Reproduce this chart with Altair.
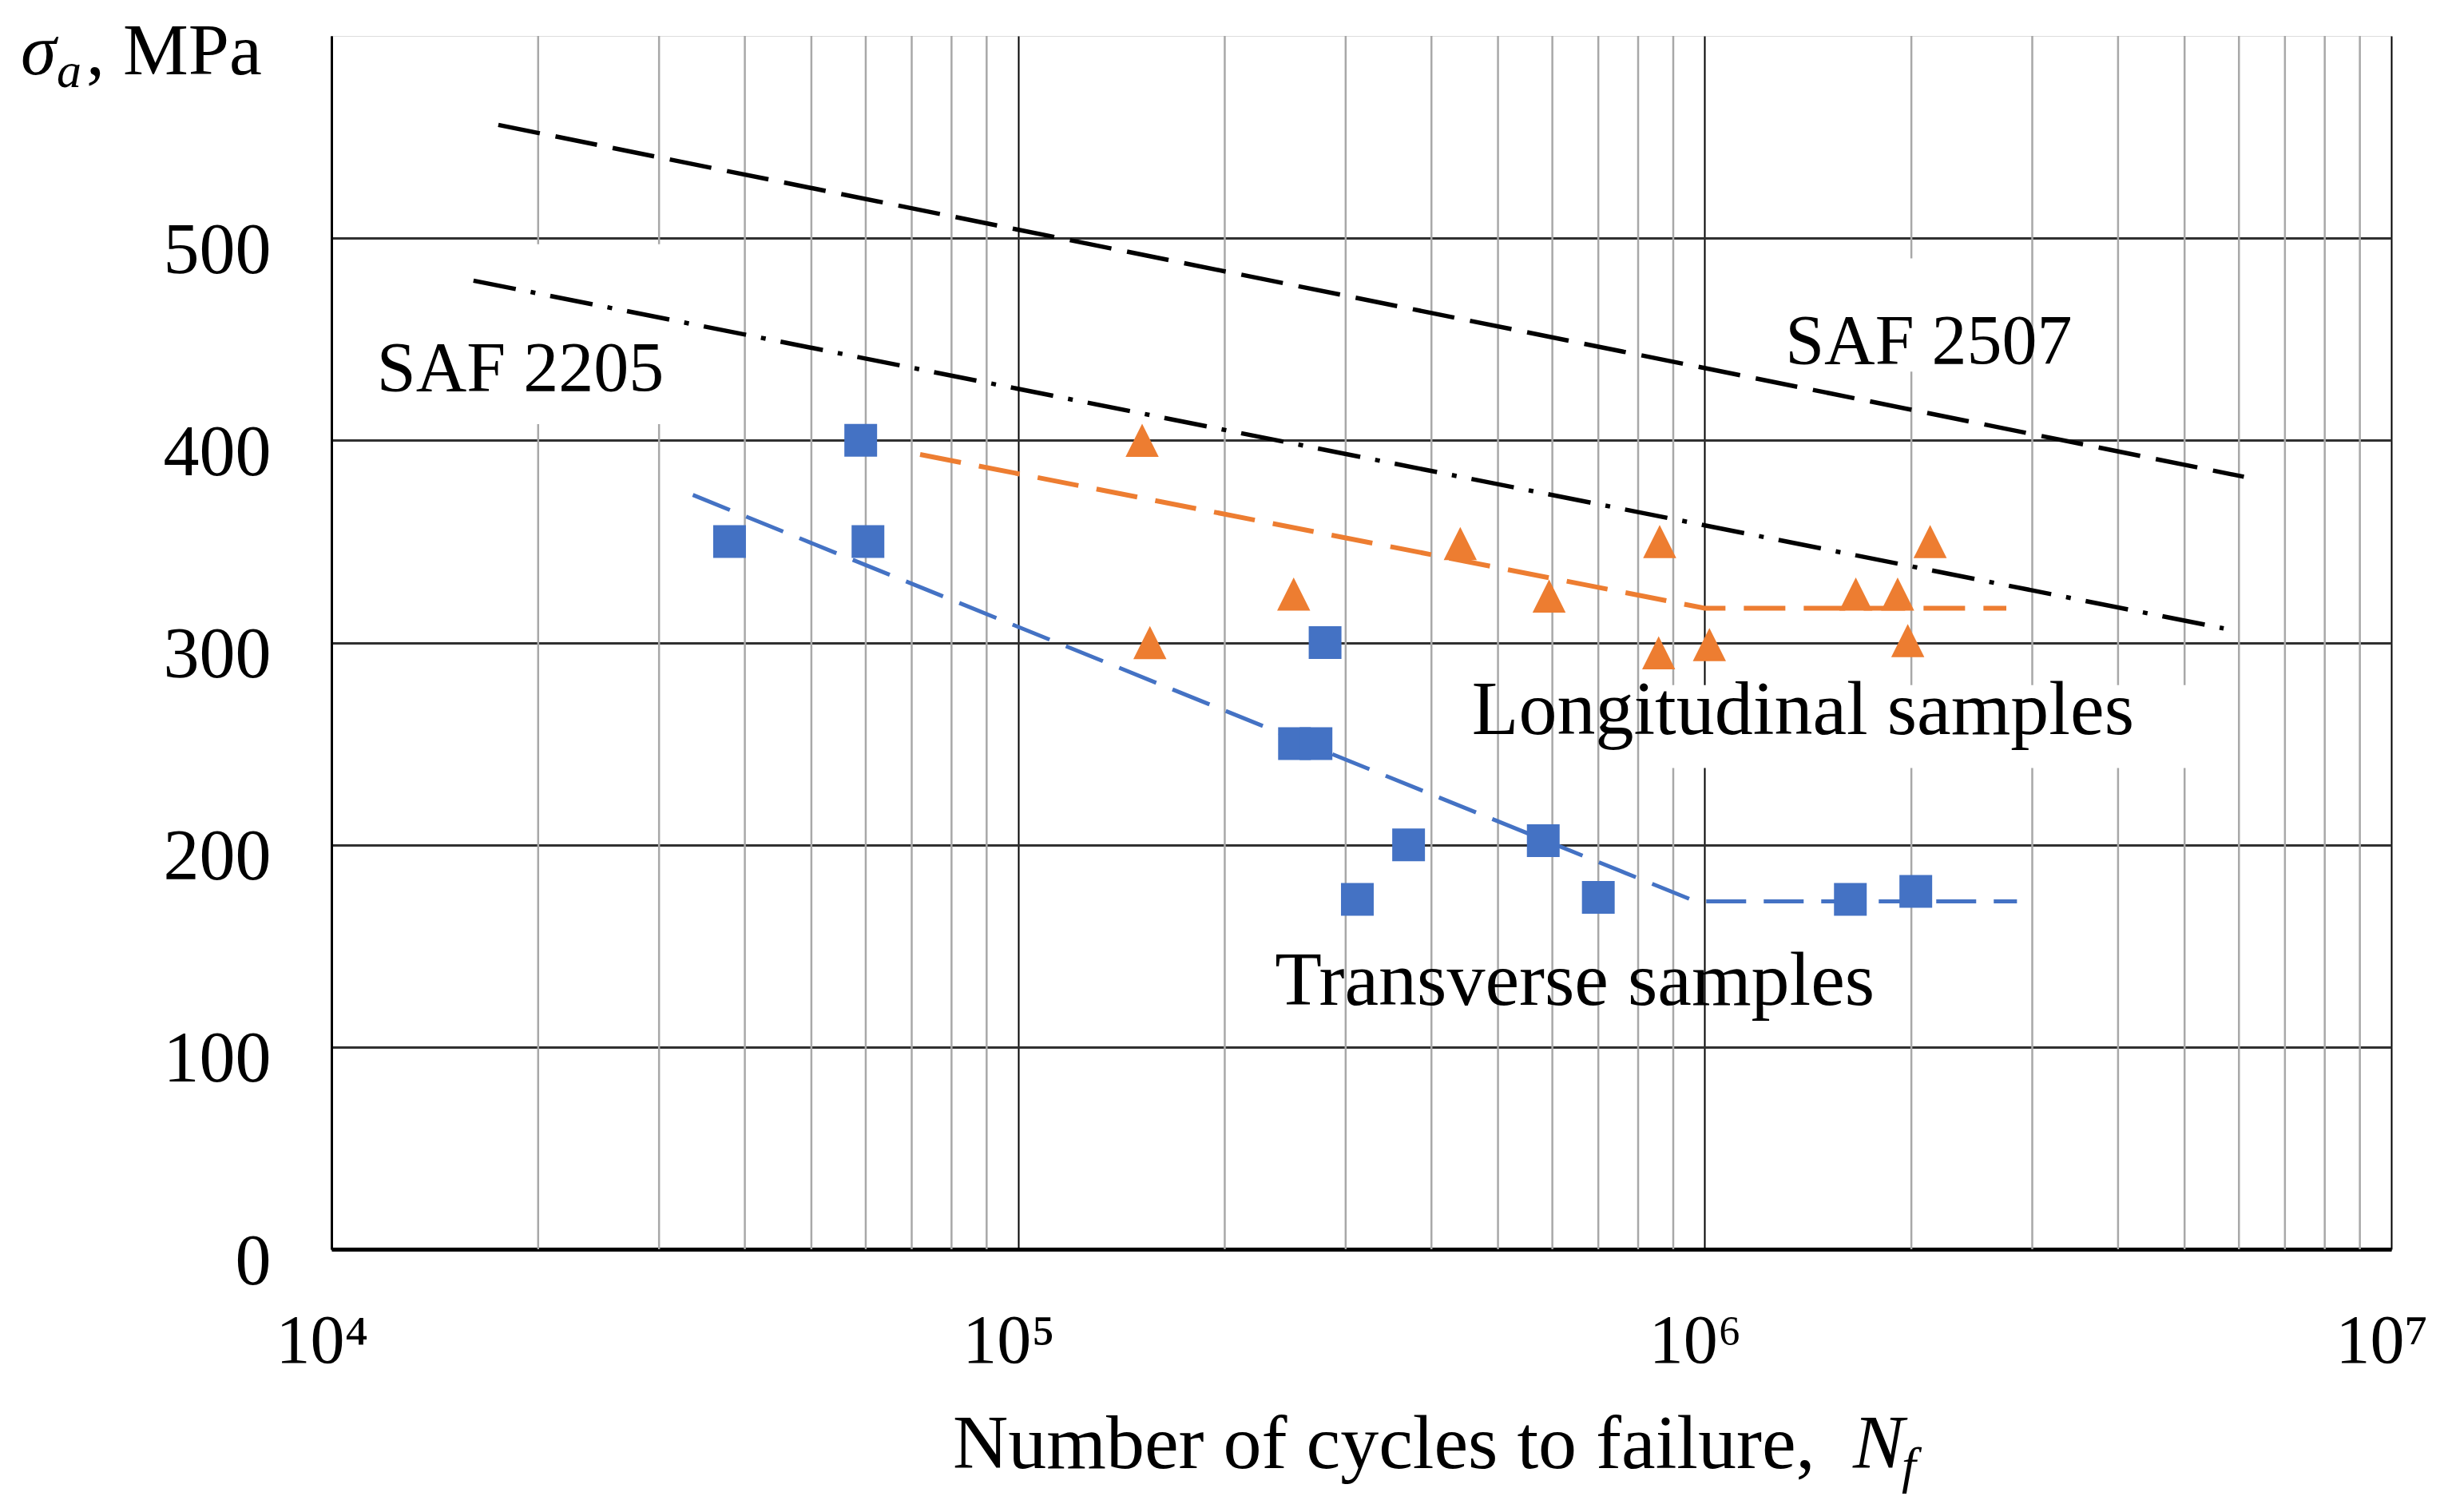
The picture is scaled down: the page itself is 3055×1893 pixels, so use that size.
import altair as alt
import pandas as pd

FONT = "Liberation Serif"

# ---- data ----
trans_N = [38000, 59000, 60450, 280000, 252700, 271600, 312000, 370500, 582000, 700000, 1630000, 2030000]
trans_S = [350, 400, 350, 300, 250, 250, 173, 200, 202, 174, 173, 177]

long_N = [151600, 155600, 252000, 440600, 593500, 860000, 857000, 1016000, 1660000, 1910000, 1976000, 2130000]
long_S = [400, 300, 324, 349, 323, 350, 295, 299, 324, 324, 301, 350]

saf2507_N = [17500, 6100000]
saf2507_S = [556, 382]
saf2205_N = [16100, 5700000]
saf2205_S = [479, 307]
long_fit_N = [72000, 1000000, 2750000]
long_fit_S = [393, 317, 317]
trans_fit_N = [33600, 970000, 2850000]
trans_fit_S = [373, 172, 172]

decades = [10000, 100000, 1000000, 10000000]
minor_N = [m * 10 ** e for e in (4, 5, 6) for m in range(2, 10)]
y_ticks = [0, 100, 200, 300, 400, 500]

ann_text = ["SAF 2205", "SAF 2507", "Longitudinal samples", "Transverse samples"]
ann_N = [11640, 1310000, 458000, 236600]
ann_S = [424.6, 438, 254.6, 120.8]
ann_fs = [88, 88, 96, 96]

# white label boxes (they hide the grid behind labels)
box_x0 = [10300, 1270000, 850000]
box_x1 = [35000, 2750000, 5500000]
box_y0 = [408, 434, 238]
box_y1 = [497, 490, 279]

# ---- scales / axes ----
xscale = alt.Scale(type="log", domain=[1e4, 1e7], nice=False)
yscale = alt.Scale(domain=[0, 600], nice=False, zero=False)

xaxis = alt.Axis(
    values=decades, title=None, grid=True, gridColor="black", gridWidth=2,
    ticks=False, tickSize=0, domain=True, domainColor="black", domainWidth=5,
    labelExpr="datum.value < 50000 ? '10⁴' : datum.value < 500000 ? '10⁵' : datum.value < 5000000 ? '10⁶' : '10⁷'",
    labelFont=FONT, labelFontSize=86, labelColor="black", labelPadding=141, labelOffset=-12,
    labelBaseline="alphabetic", labelFlush=False, labelOverlap=False, labelBound=False,
)
yaxis = alt.Axis(
    values=y_ticks, title=None, grid=True, gridColor="#303030", gridWidth=3,
    ticks=False, tickSize=0, domain=True, domainColor="black", domainWidth=3,
    labelFont=FONT, labelFontSize=90, labelColor="black", labelPadding=76,
    labelBaseline="alphabetic", labelOffset=43, labelFlush=False, labelOverlap=False,
)

def X(field="N"):
    return alt.X(f"{field}:Q", scale=xscale, axis=xaxis)

def Y(field="S"):
    return alt.Y(f"{field}:Q", scale=yscale, axis=yaxis)

# ---- layers ----
minor = alt.Chart(pd.DataFrame({"N": minor_N})).mark_rule(
    color="#a8a8a8", strokeWidth=2.5
).encode(x=X())

boxes = alt.Chart(pd.DataFrame({"x0": box_x0, "x1": box_x1, "y0": box_y0, "y1": box_y1})).mark_rect(
    color="white", opacity=1
).encode(x=X("x0"), x2="x1:Q", y=Y("y0"), y2="y1:Q")

def line(N, S, color, dash, width):
    return alt.Chart(pd.DataFrame({"N": N, "S": S})).mark_line(
        color=color, strokeDash=dash, strokeWidth=width, strokeCap="butt"
    ).encode(x=X(), y=Y())

l2507 = line(saf2507_N, saf2507_S, "black", [53, 20], 5.5)
l2205 = line(saf2205_N, saf2205_S, "black", [54, 19, 6, 19], 5.5)
llong = line(long_fit_N, long_fit_S, "#ED7D31", [52, 23], 6)
ltrans = line(trans_fit_N, trans_fit_S, "#4472C4", [50, 22], 5)

squares = alt.Chart(pd.DataFrame({"N": trans_N, "S": trans_S})).mark_point(
    shape="square", filled=True, size=1680, color="#4472C4", opacity=1, strokeWidth=0
).encode(x=X(), y=Y())

triangles = alt.Chart(pd.DataFrame({"N": long_N, "S": long_S})).mark_point(
    shape="M0,-1L1,1L-1,1Z", filled=True, size=1720, color="#ED7D31", opacity=1, strokeWidth=0
).encode(x=X(), y=Y())

ann = alt.Chart(pd.DataFrame({"N": ann_N, "S": ann_S, "t": ann_text, "fs": ann_fs})).mark_text(
    font=FONT, align="left", baseline="alphabetic", color="black"
).encode(x=X(), y=Y(), text="t:N", size=alt.Size("fs:Q", scale=None, legend=None))

def ptext(txt, px, py, fs, italic=False):
    return alt.Chart(pd.DataFrame({"t": [txt]})).mark_text(
        font=FONT, fontSize=fs, fontStyle="italic" if italic else "normal",
        align="left", baseline="alphabetic", color="black"
    ).encode(x=alt.value(px), y=alt.value(py), text="t:N")

ytitle = [
    ptext("σ", -389, 48, 90, True),
    ptext("a", -344, 64, 62, True),
    ptext(", MPa", -307, 48, 92),
]
xtitle = [
    ptext("Number of cycles to failure,", 778, 1793, 96),
    ptext("N", 1905, 1793, 96, True),
    ptext("f", 1966, 1811, 64, True),
]

chart = alt.layer(
    minor, boxes, l2507, l2205, llong, ltrans, squares, triangles, ann, *ytitle, *xtitle
).properties(
    width=2579, height=1519,
    autosize=alt.AutoSizeParams(type="none"),
    padding={"left": 407, "top": 37, "right": 51, "bottom": 310},
).configure_view(stroke="black", strokeWidth=3).configure(background="white")

chart.save("out.html", embed_options={"renderer": "svg", "actions": False})
